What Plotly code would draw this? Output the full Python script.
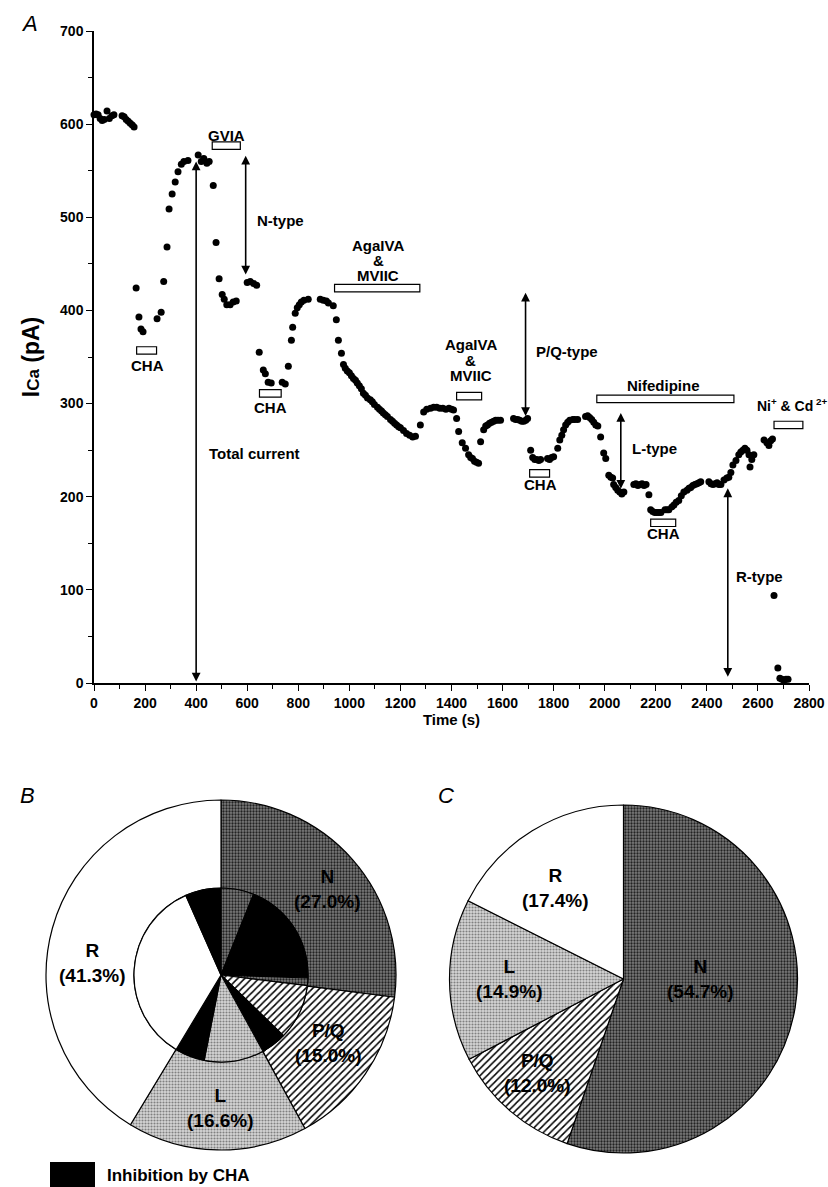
import plotly.graph_objects as go

# ---------------- Panel A data ----------------
t_s = [0, 8, 16, 24, 32, 40, 51, 60, 70, 78,
       110, 118, 126, 134, 142, 150, 157,
       165, 176, 184, 192, 247, 263, 273, 286, 294, 306, 318, 329, 342, 352, 368, 408, 420, 430, 442, 451,
       467, 478, 490, 502, 510, 520, 533, 545, 557,
       600, 612, 625, 637,
       647, 663, 671, 682, 694, 737, 749, 761, 773, 778, 788, 796, 804, 812, 822, 839, 886, 898, 910, 918, 937, 949, 957, 969, 977,
       984, 992, 1000, 1008, 1016, 1024, 1031, 1039, 1047, 1055, 1063, 1071, 1082, 1090, 1098, 1110, 1118, 1126, 1133, 1141,
       1149, 1161, 1169, 1177, 1185, 1193, 1200, 1212, 1224, 1236, 1248, 1259,
       1278, 1291, 1303, 1318, 1330, 1342, 1354, 1366, 1378, 1390, 1400, 1408,
       1420, 1428, 1442, 1455, 1467, 1475, 1482, 1490, 1498, 1506,
       1514, 1526, 1534, 1541, 1549, 1557, 1565, 1573, 1582, 1592,
       1643, 1651, 1659, 1667, 1675, 1683, 1691, 1698,
       1710, 1718, 1726, 1734, 1742, 1749, 1776, 1784, 1792, 1800,
       1816, 1824, 1832, 1839, 1847, 1855, 1863, 1875, 1883, 1894, 1925, 1933, 1941, 1949, 1957, 1965, 1973,
       1984, 1996, 2004, 2016, 2024, 2031, 2035, 2043, 2051, 2059, 2067, 2075,
       2114, 2122, 2130, 2138, 2146, 2154, 2162, 2173,
       2180, 2188, 2196, 2204, 2212, 2220, 2236, 2244, 2251, 2263, 2271, 2280, 2290, 2300, 2310, 2322, 2330, 2337, 2345,
       2353, 2361, 2369, 2376,
       2408, 2416, 2424, 2432, 2440, 2447, 2455, 2467, 2478, 2486, 2494, 2502, 2514, 2525, 2533, 2541, 2549, 2557, 2565,
       2569, 2576, 2584,
       2624, 2635, 2643, 2650, 2657,
       2663, 2678, 2686, 2694, 2702, 2710, 2718]
ica_pA = [610, 611, 610, 606, 604, 605, 614, 606, 609, 610,
          609, 608, 605, 603, 601, 599, 597,
          424, 393, 380, 377, 391, 398, 431, 468, 509, 525, 538, 549, 557, 560, 561, 567, 560, 563, 558, 560,
          534, 473, 434, 417, 412, 406, 406, 409, 410,
          430, 431, 429, 427,
          355, 336, 332, 323, 322, 323, 321, 340, 368, 382, 397, 403, 406, 409, 411, 412, 412, 411, 410, 408, 405, 390, 368, 354, 342,
          338, 335, 333, 330, 327, 325, 322, 319, 316, 311, 309, 306, 304, 302, 299, 296, 294, 292, 290, 288,
          286, 283, 281, 279, 277, 275, 274, 271, 268, 266, 264, 265,
          277, 291, 294, 295, 296, 296, 295, 295, 294, 295, 294, 293,
          284, 270, 258, 252, 245, 242, 241, 238, 237, 236,
          259, 272, 276, 277, 279, 280, 281, 282, 282, 282,
          284, 283, 283, 282, 281, 281, 282, 284,
          250, 242, 240, 240, 239, 240, 241, 240, 242, 243,
          252, 261, 266, 272, 277, 280, 282, 283, 283, 283, 286, 287, 285, 283, 280, 277, 276,
          264, 247, 241, 223, 221, 220, 213, 210, 207, 205, 203, 205,
          213, 214, 212, 213, 214, 212, 213, 202,
          186, 184, 183, 183, 183, 183, 186, 186, 186, 189, 191, 194, 196, 201, 205, 207, 209, 210, 212,
          213, 214, 215, 216,
          216, 214, 213, 214, 215, 213, 213, 218, 220, 221, 226, 234, 239, 245, 248, 250, 252, 250, 245,
          232, 240, 245,
          261, 258, 255, 260, 262,
          94, 16, 5, 4, 3, 4, 4]

# drug application bars: start, end, level
bar_start = [167, 463, 942, 648, 1420, 1706, 1969, 2180, 2663]
bar_end = [245, 573, 1276, 733, 1518, 1784, 2506, 2278, 2776]
bar_level = [357, 577, 424, 311, 308, 225, 305, 172, 277]

# double arrows: time, low, high
arrow_t = [400, 594, 1690, 2063, 2482]
arrow_low = [0, 437, 285, 207, 5]
arrow_high = [560, 566, 419, 290, 209]

# ---------------- Panel B / C data ----------------
types = ["N", "P/Q", "L", "R"]
pie_b = [27.0, 15.0, 16.6, 41.3]
pie_c = [54.7, 12.0, 14.9, 17.4]
inner_labels = ["N1", "N CHA", "N2", "PQ1", "PQ CHA", "L1", "L CHA", "R1", "R CHA"]
inner_vals = [6.1, 19.4, 1.4, 10.3, 4.7, 11.1, 5.5, 34.7, 6.6]
inner_kind = ["N", "CHA", "N", "P/Q", "CHA", "L", "CHA", "R", "CHA"]

W, H = 828, 1187
FONT = "Liberation Sans, Arial, sans-serif"

def px_x(p):
    return p / W

def px_y(p):
    return 1 - p / H

style = {
    "N":   dict(color="#6e6e6e", shape=".", fg="#222222", bg="#7c7c7c", size=3, sol=0.45),
    "P/Q": dict(color="#ffffff", shape="/", fg="#000000", bg="#ffffff", size=5, sol=0.3),
    "L":   dict(color="#cfcfcf", shape=".", fg="#808080", bg="#d6d6d6", size=3, sol=0.4),
    "R":   dict(color="#ffffff", shape="", fg="#ffffff", bg="#ffffff", size=4, sol=0.3),
    "CHA": dict(color="#000000", shape="", fg="#000000", bg="#000000", size=4, sol=0.3),
}

def pie_marker(kinds):
    return dict(
        colors=[style[k]["color"] for k in kinds],
        line=dict(color="black", width=1.2),
        pattern=dict(
            shape=[style[k]["shape"] for k in kinds],
            fgcolor=[style[k]["fg"] for k in kinds],
            bgcolor=[style[k]["bg"] for k in kinds],
            size=[style[k]["size"] for k in kinds],
            solidity=[style[k]["sol"] for k in kinds],
        ),
    )

fig = go.Figure()

fig.add_trace(go.Scatter(
    x=t_s, y=ica_pA, mode="markers",
    marker=dict(color="black", size=7),
    cliponaxis=False, showlegend=False, hoverinfo="x+y",
))

# Pie B outer donut
cxB, cyB, rB, riB = 221, 975, 175, 87
fig.add_trace(go.Pie(
    labels=types, values=pie_b, sort=False, direction="clockwise", rotation=0,
    hole=riB / rB, textinfo="none", hoverinfo="label+value",
    marker=pie_marker(types),
    domain=dict(x=[px_x(cxB - rB), px_x(cxB + rB)], y=[px_y(cyB + rB), px_y(cyB - rB)]),
    showlegend=False,
))
# Pie B inner (CHA inhibition)
fig.add_trace(go.Pie(
    labels=inner_labels, values=inner_vals, sort=False, direction="clockwise", rotation=0,
    textinfo="none", hoverinfo="label+value",
    marker=pie_marker(inner_kind),
    domain=dict(x=[px_x(cxB - riB), px_x(cxB + riB)], y=[px_y(cyB + riB), px_y(cyB - riB)]),
    showlegend=False,
))
# Pie C
cxC, cyC, rC = 623.5, 979, 174
fig.add_trace(go.Pie(
    labels=types, values=pie_c, sort=False, direction="clockwise", rotation=0,
    textinfo="none", hoverinfo="label+value",
    marker=pie_marker(types),
    domain=dict(x=[px_x(cxC - rC), px_x(cxC + rC)], y=[px_y(cyC + rC), px_y(cyC - rC)]),
    showlegend=False,
))

shapes = []
for x0, x1, lv in zip(bar_start, bar_end, bar_level):
    shapes.append(dict(type="rect", xref="x", yref="y", x0=x0, x1=x1, y0=lv - 4, y1=lv + 4,
                       fillcolor="white", line=dict(color="black", width=1.2)))
# legend swatch
shapes.append(dict(type="rect", xref="paper", yref="paper", x0=px_x(50), x1=px_x(95),
                   y0=px_y(1187), y1=px_y(1162), fillcolor="black", line=dict(width=0)))

annotations = []
for at, lo, hi in zip(arrow_t, arrow_low, arrow_high):
    annotations.append(dict(x=at, y=hi, ax=at, ay=lo, xref="x", yref="y", axref="x", ayref="y",
                            text="", showarrow=True, arrowhead=2, arrowside="end+start",
                            arrowsize=1.1, arrowwidth=1.6, arrowcolor="black"))

def lab(text, x, y, xanchor="center", size=15):
    annotations.append(dict(x=x, y=y, xref="x", yref="y", text=text, showarrow=False,
                            xanchor=xanchor, yanchor="middle",
                            font=dict(family=FONT, size=size, color="black", weight="bold")))

lab("GVIA", 518, 588)
lab("N-type", 631, 497, "left")
lab("AgaIVA", 1114, 470)
lab("&", 1114, 454)
lab("MVIIC", 1114, 438)
lab("AgaIVA", 1476, 363)
lab("&", 1476, 346)
lab("MVIIC", 1476, 330)
lab("P/Q-type", 1722, 356, "left")
lab("Nifedipine", 2232, 319)
lab("L-type", 2098, 252, "left")
lab("R-type", 2506, 114, "left")
lab("Ni<sup>+</sup> & Cd<sup> 2+</sup>", 2590, 298, "left", size=14)
lab("CHA", 208, 341)
lab("CHA", 690, 296)
lab("CHA", 1749, 213)
lab("CHA", 2232, 160)
lab("Total current", 443, 246, "left")

def plab(text, x, y, size=19, weight="bold", style_="normal", xanchor="center"):
    annotations.append(dict(x=px_x(x), y=px_y(y), xref="paper", yref="paper", text=text,
                            showarrow=False, xanchor=xanchor, yanchor="middle",
                            font=dict(family=FONT, size=size, color="black", weight=weight, style=style_)))

# pie labels
plab("N<br>(27.0%)", 327, 889)
plab("P/Q<br>(15.0%)", 328, 1043)
plab("L<br>(16.6%)", 220, 1108)
plab("R<br>(41.3%)", 92, 963)
plab("R<br>(17.4%)", 555, 888)
plab("L<br>(14.9%)", 510, 979)
plab("P/Q<br>(12.0%)", 537, 1073)
plab("N<br>(54.7%)", 700, 979)
# panel letters
plab("A", 29, 23, size=22, weight="normal", style_="italic")
plab("B", 27, 795, size=22, weight="normal", style_="italic")
plab("C", 446, 795, size=22, weight="normal", style_="italic")
# legend text
plab("Inhibition by CHA", 105, 1175, size=17, xanchor="left")

fig.update_layout(
    width=W, height=H, autosize=False,
    margin=dict(l=0, r=0, t=0, b=0),
    paper_bgcolor="white", plot_bgcolor="white",
    font=dict(family=FONT, color="black"),
    shapes=shapes, annotations=annotations,
    xaxis=dict(domain=[px_x(94), px_x(809)], range=[0, 2800], dtick=200, tick0=0,
               showline=True, linecolor="black", linewidth=1.5, ticks="outside", ticklen=6,
               tickwidth=1.3, tickcolor="black", showgrid=False, zeroline=False, automargin=False,
               minor=dict(dtick=100, ticks="outside", ticklen=4, tickcolor="black", tickwidth=1),
               tickfont=dict(family=FONT, size=14, color="black", weight="bold"),
               title=dict(text="Time (s)", standoff=2,
                          font=dict(family=FONT, size=15, color="black", weight="bold"))),
    yaxis=dict(domain=[px_y(683), px_y(31)], range=[0, 700], dtick=100, tick0=0,
               showline=True, linecolor="black", linewidth=1.5, ticks="outside", ticklen=6,
               tickwidth=1.3, tickcolor="black", showgrid=False, zeroline=False, automargin=False,
               minor=dict(dtick=50, ticks="outside", ticklen=4, tickcolor="black", tickwidth=1),
               tickfont=dict(family=FONT, size=14, color="black", weight="bold"),
               title=dict(text="I<span style='font-size:17px'>Ca</span> (pA)", standoff=14,
                          font=dict(family=FONT, size=23, color="black", weight="bold"))),
)

fig.write_html("out.html")
